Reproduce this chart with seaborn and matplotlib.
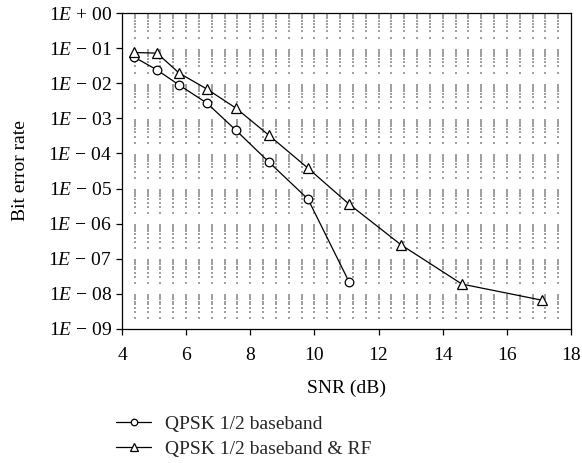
import numpy as np
import pandas as pd
import matplotlib
matplotlib.use("Agg")
import matplotlib.pyplot as plt
import seaborn as sns
from matplotlib.ticker import FixedLocator, FuncFormatter

snr_base = [4.37, 5.09, 5.78, 6.65, 7.55, 8.58, 9.80, 11.08]
ber_base = [5.6e-2, 2.4e-2, 8.9e-3, 2.7e-3, 4.6e-4, 5.7e-5, 5.0e-6, 2.2e-8]
snr_rf = [4.37, 5.09, 5.78, 6.65, 7.55, 8.58, 9.80, 11.08, 12.70, 14.60, 17.10]
ber_rf = [7.5e-2, 7.2e-2, 1.95e-2, 6.8e-3, 1.96e-3, 3.3e-4, 3.8e-5, 3.6e-6, 2.5e-7, 1.9e-8, 6.6e-9]
labels = ["QPSK 1/2 baseband", "QPSK 1/2 baseband & RF"]
xticks = [4, 6, 8, 10, 12, 14, 16, 18]
yexps = list(range(0, -10, -1))

sns.set_theme(style="white")
plt.rcParams['font.family'] = ['Liberation Serif', 'DejaVu Serif']
plt.rcParams['mathtext.fontset'] = 'custom'
plt.rcParams['mathtext.rm'] = 'Liberation Serif'
plt.rcParams['mathtext.it'] = 'Liberation Serif:italic'

FS = 14

fig = plt.figure(figsize=(5.82, 4.63), dpi=100)
ax = fig.add_axes([122/582, 1-329/463, (571-122)/582, (329-13)/463])

# dotted background grid (dots at x-minor / y-log-minor intersections)
xg = np.arange(4.4, 18.0, 0.4)
yg = [m * 10.0**e for e in range(-9, 0) for m in range(2, 10)]
XX, YY = np.meshgrid(xg, yg)
ax.scatter(XX.ravel(), YY.ravel(), s=1.0, c='#a0a0a0', marker='s', linewidths=0, zorder=1)

df1 = pd.DataFrame({"snr": snr_base, "ber": ber_base})
df2 = pd.DataFrame({"snr": snr_rf, "ber": ber_rf})
sns.lineplot(data=df1, x="snr", y="ber", ax=ax, color='black', lw=0.9, marker='o',
             markersize=6.2, markerfacecolor='white', markeredgecolor='black',
             markeredgewidth=0.9, label=labels[0], legend=False, zorder=3)
sns.lineplot(data=df2, x="snr", y="ber", ax=ax, color='black', lw=0.9, marker='^',
             markersize=7, markerfacecolor='white', markeredgecolor='black',
             markeredgewidth=0.9, label=labels[1], legend=False, zorder=3)

ax.set_yscale('log')
ax.set_xlim(4, 18)
ax.set_ylim(1e-9, 1)
ax.xaxis.set_major_locator(FixedLocator(xticks))
ax.yaxis.set_major_locator(FixedLocator([10.0**e for e in yexps]))
ax.yaxis.set_minor_locator(FixedLocator([]))

def yfmt(v, pos):
    e = int(round(np.log10(v)))
    if e == 0:
        return r'$1E\,+\,00$'
    return r'$1E\,-\,%02d$' % (-e)
ax.yaxis.set_major_formatter(FuncFormatter(yfmt))

ax.tick_params(axis='both', which='major', direction='out', length=4, width=0.9,
               labelsize=FS, colors='black', bottom=True, left=True, pad=3)
ax.tick_params(axis='x', pad=9)
for s in ax.spines.values():
    s.set_color('black')
    s.set_linewidth(0.9)
ax.set_xlabel("SNR (dB)", fontsize=FS, color='black', labelpad=11)
ax.set_ylabel("Bit error rate", fontsize=FS, color='black', labelpad=14)
ax.grid(False)

h, l = ax.get_legend_handles_labels()
fig.legend(h, l, loc='upper left', bbox_to_anchor=(116/582, 1-415/463), frameon=False,
           fontsize=FS, handlelength=1.8, handletextpad=0.7, labelspacing=0.4,
           markerscale=0.75, borderaxespad=0, borderpad=0)

fig.savefig("out.png", dpi=100)
